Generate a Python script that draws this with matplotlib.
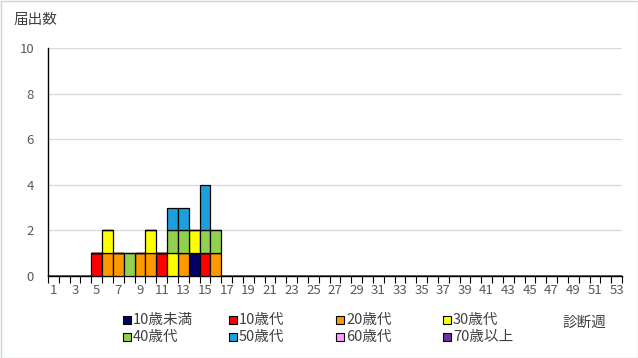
import numpy as np
import matplotlib.pyplot as plt
from matplotlib.patches import Rectangle

plt.rcParams['font.family'] = ['Noto Sans CJK JP', 'DejaVu Sans']

weeks = np.arange(1, 54)
groups = ['10歳未満', '10歳代', '20歳代', '30歳代', '40歳代', '50歳代', '60歳代', '70歳以上']
colors = ['#000066', '#ff0000', '#ff9900', '#ffff00', '#92d050', '#1ca0dc', '#ff99ff', '#7030a0']

# counts per week (weeks 5..16), everything else 0
start_week = 5
under10 = [0, 0, 0, 0, 0, 0, 0, 0, 0, 1, 0, 0]
teens   = [1, 0, 0, 0, 0, 0, 1, 0, 0, 0, 1, 0]
twenties = [0, 1, 1, 0, 1, 1, 0, 0, 1, 0, 0, 1]
thirties = [0, 1, 0, 0, 0, 1, 0, 1, 0, 1, 0, 0]
forties = [0, 0, 0, 1, 0, 0, 0, 1, 1, 0, 1, 1]
fifties = [0, 0, 0, 0, 0, 0, 0, 1, 1, 0, 2, 0]
sixties = [0] * 12
over70 = [0] * 12
series = [under10, teens, twenties, thirties, forties, fifties, sixties, over70]

fig = plt.figure(figsize=(6.38, 3.58), dpi=100)
ax = fig.add_axes([48 / 638, 1 - 276 / 358, 574 / 638, 228 / 358])

bottom = np.zeros(len(weeks))
for name, col, vals in zip(groups, colors, series):
    full = np.zeros(len(weeks))
    full[start_week - 1:start_week - 1 + len(vals)] = vals
    ax.bar(weeks, full, width=1.0, bottom=bottom, color=col, edgecolor='black',
           linewidth=0.9 if full.any() else 0, label=name, zorder=3)
    bottom += full

ax.set_xlim(0.5, 53.5)
ax.set_ylim(0, 10)
ax.set_yticks(range(0, 11, 2))
ax.set_xticks(np.arange(0.5, 54, 1))
ax.set_xticklabels([])
ax.set_xticks(weeks[::2], minor=True)
ax.set_xticklabels([str(w) for w in weeks[::2]], minor=True)
ax.tick_params(axis='x', which='major', length=5, width=0.8, direction='out', color='black')
ax.tick_params(axis='x', which='minor', length=0, pad=6, labelsize=9.5, labelcolor='#595959')
ax.tick_params(axis='y', length=0, pad=10, labelsize=9.5, labelcolor='#595959')
ax.grid(axis='y', color='#d9d9d9', linewidth=0.9, zorder=0)
for s in ['top', 'right']:
    ax.spines[s].set_visible(False)
ax.spines['left'].set_linewidth(1.0)
ax.spines['bottom'].set_linewidth(1.0)

fig.text(14 / 638, 1 - 20 / 358, '届出数', fontsize=10.5, color='#404040', va='center')
fig.text(606 / 638, 1 - 323 / 358, '診断週', fontsize=10.5, color='#404040', va='center', ha='right')

# legend
col_x = [123, 229, 336, 443]
row_y = [320, 337]
for i, (name, col) in enumerate(zip(groups, colors)):
    x = col_x[i % 4]
    y = row_y[i // 4]
    fig.patches.append(Rectangle((x / 638, 1 - (y + 4) / 358), 8 / 638, 8 / 358,
                                 transform=fig.transFigure, facecolor=col,
                                 edgecolor='black', linewidth=0.8))
    fig.text((x + 10) / 638, 1 - y / 358, name, fontsize=10.5, color='#404040', va='center')

fig.patches.append(Rectangle((0.5 / 638, 0.5 / 358), 637 / 638, 357 / 358,
                             transform=fig.transFigure, fill=False,
                             edgecolor='#c8d8c8', linewidth=1))

fig.savefig('out.png', dpi=100)
